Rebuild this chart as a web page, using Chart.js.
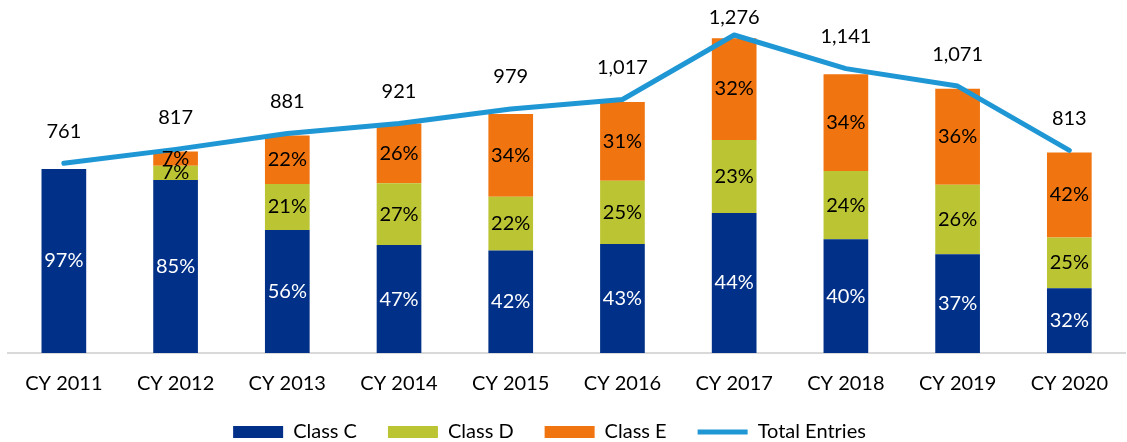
<!DOCTYPE html>
<html>
<head>
<meta charset="utf-8">
<script src="https://cdn.jsdelivr.net/npm/chart.js@4"></script>
<style>
  html, body { margin: 0; padding: 0; background: #fff; overflow: hidden; }
</style>
</head>
<body>
<canvas id="myChart" width="1127" height="442"></canvas>
<script>
const years = ["CY 2011", "CY 2012", "CY 2013", "CY 2014", "CY 2015",
  "CY 2016", "CY 2017", "CY 2018", "CY 2019", "CY 2020"];
// share of each class (%) as labelled on the bars
const classC = [97, 85, 56, 47, 42, 43, 44, 40, 37, 32];
const classD = [0, 7, 21, 27, 22, 25, 23, 24, 26, 25];
const classE = [0, 7, 22, 26, 34, 31, 32, 34, 36, 42];
// total entries per year
const totals = [761, 817, 881, 921, 979, 1017, 1276, 1141, 1071, 813];

// bar segments are the class share of the year's total entries
const toCounts = (pcts) => pcts.map((p, i) => totals[i] * p / 100);

Chart.defaults.font.family = "Lato, 'Open Sans', sans-serif";

const valueLabels = {
  id: "valueLabels",
  afterDatasetsDraw(chart) {
    const ctx = chart.ctx;
    ctx.save();
    ctx.font = "20px Lato";
    ctx.textAlign = "center";
    ctx.textBaseline = "middle";
    [classC, classD, classE].forEach((pcts, di) => {
      chart.getDatasetMeta(di).data.forEach((bar, i) => {
        if (!pcts[i]) return;
        ctx.fillStyle = di === 0 ? "#ffffff" : "#000000";
        ctx.fillText(pcts[i] + "%", bar.x, (bar.y + bar.base) / 2);
      });
    });
    ctx.fillStyle = "#000000";
    chart.getDatasetMeta(3).data.forEach((pt, i) => {
      ctx.fillText(totals[i].toLocaleString("en-US"), pt.x, Math.max(pt.y - 32, 18));
    });
    ctx.restore();
  }
};

// move the legend a bit, like the original
const legendNudge = {
  id: "legendNudge",
  afterLayout(chart) {
    const lg = chart.legend;
    lg.left -= 20; lg.right -= 20;
    lg.top -= 24; lg.bottom = chart.height;
  }
};

new Chart(document.getElementById("myChart"), {
  type: "bar",
  data: {
    labels: years,
    datasets: [
      { label: "Class C", data: toCounts(classC), backgroundColor: "#003087", pointStyle: "rect", order: 1 },
      { label: "Class D", data: toCounts(classD), backgroundColor: "#bbc433", pointStyle: "rect", order: 1 },
      { label: "Class E", data: toCounts(classE), backgroundColor: "#f0740f", pointStyle: "rect", order: 1 },
      {
        type: "line",
        label: "Total Entries",
        data: totals,
        stack: "total",
        borderColor: "#1f97d5",
        backgroundColor: "#1f97d5",
        borderWidth: 5,
        borderCapStyle: "round",
        borderJoinStyle: "round",
        pointRadius: 0,
        pointStyle: "line",
        tension: 0,
        order: 0
      }
    ]
  },
  options: {
    responsive: false,
    animation: false,
    devicePixelRatio: 1,
    layout: { padding: { top: 29, left: 8, right: -4, bottom: 0 } },
    datasets: { bar: { barPercentage: 0.4, categoryPercentage: 1 } },
    scales: {
      x: {
        stacked: true,
        grid: { display: false, drawTicks: false },
        border: { color: "#d9d9d9", width: 2 },
        ticks: { color: "#000000", font: { size: 20 }, padding: 19 }
      },
      y: { stacked: true, display: false, min: 0, max: 1300 }
    },
    plugins: {
      tooltip: { enabled: false },
      legend: {
        position: "bottom",
        maxHeight: 27,
        labels: {
          usePointStyle: true,
          pointStyleWidth: 50,
          boxHeight: 12,
          padding: 31,
          color: "#000000",
          font: { size: 20 },
          sort: (a, b) => a.datasetIndex - b.datasetIndex
        }
      }
    }
  },
  plugins: [valueLabels, legendNudge]
});
</script>
</body>
</html>
